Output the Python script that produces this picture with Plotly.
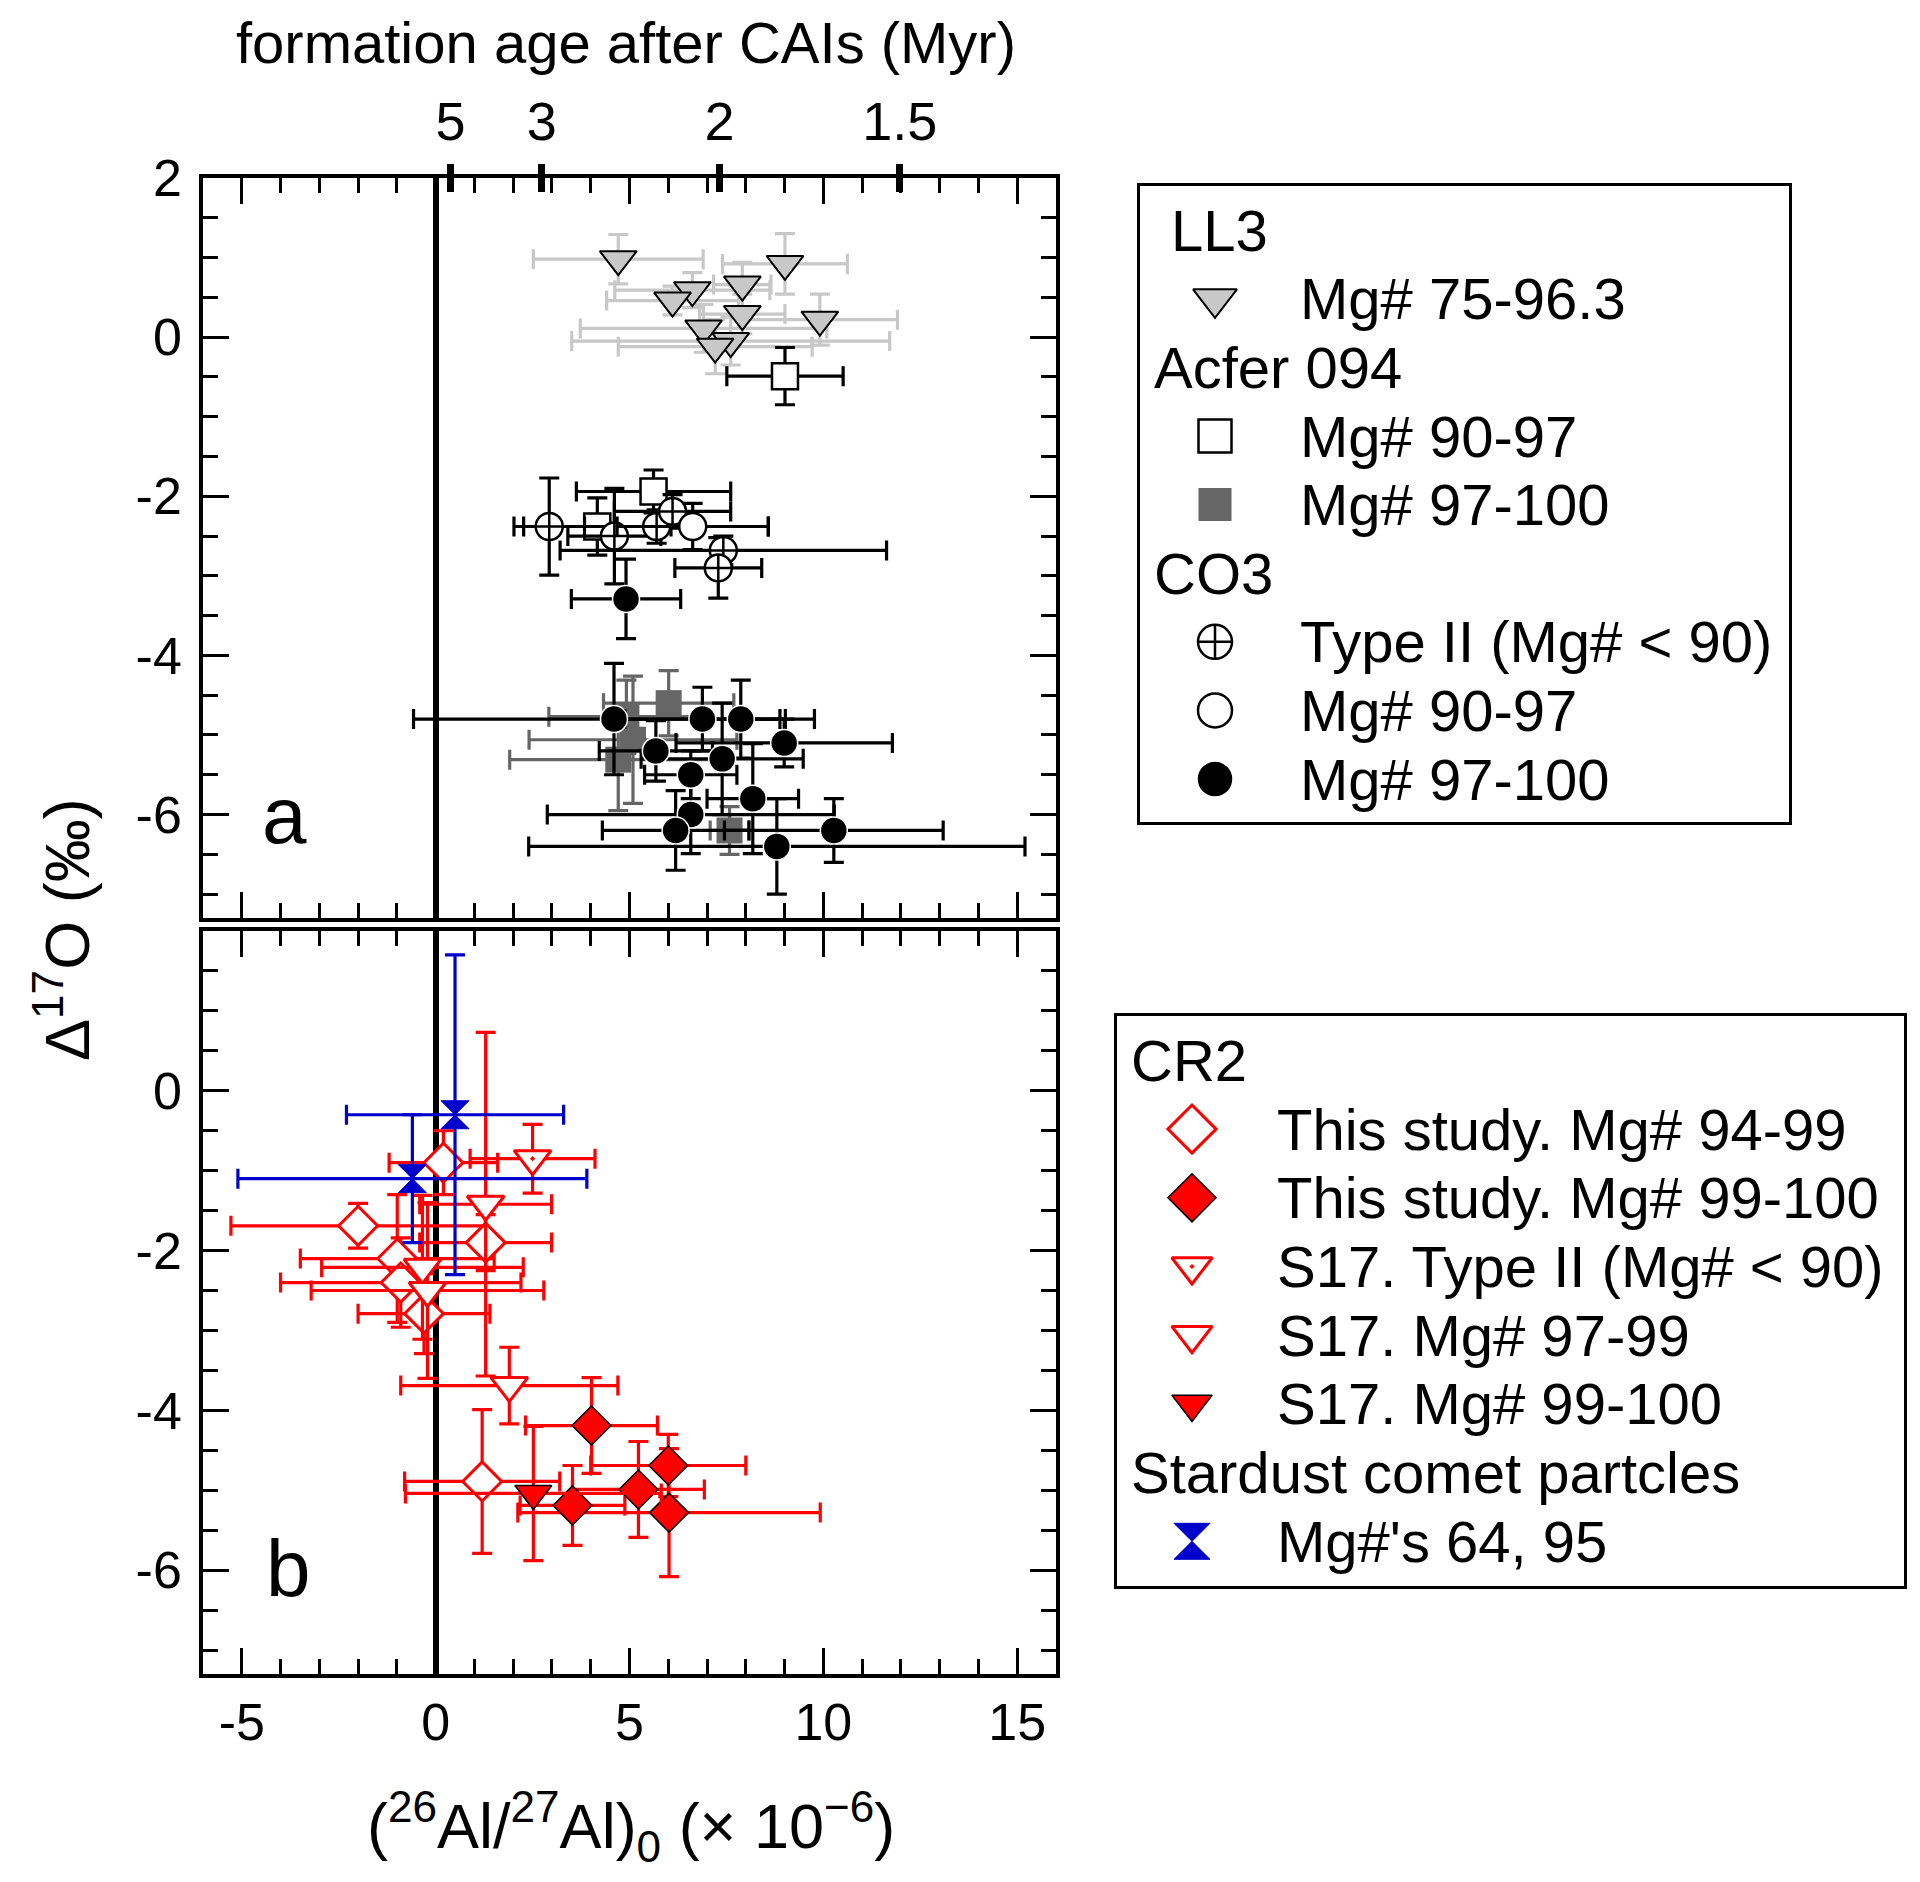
import plotly.graph_objects as go

# ---- data ----
# panel a: LL3, Acfer 094, CO3
ll3_x = [4.71, 9.01, 7.91, 6.62, 6.11, 7.91, 9.91, 6.91, 7.61, 7.21]
ll3_y = [0.98, 0.92, 0.66, 0.59, 0.46, 0.29, 0.22, 0.11, -0.05, -0.12]
ll3_xerr = [2.19, 1.61, 0.74, 2.0, 1.7, 1.1, 2.0, 3.18, 4.1, 2.5]
ll3_yerr = [0.31, 0.38, 0.28, 0.22, 0.18, 0.25, 0.32, 0.3, 0.3, 0.34]

acf_open_x = [9.01, 5.62, 4.17]
acf_open_y = [-0.49, -1.94, -2.38]
acf_open_xerr = [1.5, 1.99, 1.9]
acf_open_yerr = [0.36, 0.27, 0.36]

acf_fill_x = [6.01, 4.92, 5.09, 4.71, 7.58]
acf_fill_y = [-4.60, -4.77, -5.06, -5.31, -6.20]
acf_fill_xerr = [1.68, 2.0, 2.68, 2.8, 0.5]
acf_fill_yerr = [0.41, 0.46, 0.8, 0.64, 0.3]

co3_t2_x = [2.93, 4.61, 5.70, 6.11, 7.42, 7.29]
co3_t2_y = [-2.38, -2.50, -2.38, -2.19, -2.68, -2.90]
co3_t2_xerr = [0.91, 1.2, 2.88, 1.5, 4.21, 1.12]
co3_t2_yerr = [0.61, 0.6, 0.21, 0.21, 0.18, 0.38]

co3_open_x = [6.63]
co3_open_y = [-2.38]
co3_open_xerr = [1.95]
co3_open_yerr = [0.29]

co3_fill_x = [4.91, 4.60, 6.88, 7.87, 8.99, 5.68, 7.39, 6.58, 8.18, 6.58, 6.19, 10.27, 8.80]
co3_fill_y = [-3.29, -4.80, -4.80, -4.80, -5.10, -5.20, -5.30, -5.50, -5.80, -6.00, -6.20, -6.20, -6.40]
co3_fill_xerr = [1.41, 5.17, 2.0, 1.15, 2.79, 1.46, 2.09, 1.19, 1.18, 3.7, 1.89, 2.82, 6.4]
co3_fill_yerr = [0.5, 0.7, 0.4, 0.49, 0.3, 0.38, 0.7, 0.3, 0.69, 0.49, 0.5, 0.4, 0.6]

# panel b: CR2 and Stardust
ts_open_x = [0.20, -2.0, 1.29, -0.99, -0.90, -0.30, 1.20]
ts_open_y = [-0.90, -1.69, -1.90, -2.10, -2.40, -2.79, -4.89]
ts_open_xerr = [1.4, 3.28, 1.7, 2.5, 3.1, 1.7, 2.0]
ts_open_yerr = [0.4, 0.28, 0.35, 0.8, 0.56, 0.5, 0.9]

ts_fill_x = [4.02, 6.00, 5.23, 3.53, 6.02]
ts_fill_y = [-4.19, -4.69, -4.99, -5.19, -5.28]
ts_fill_xerr = [1.7, 2.0, 1.7, 1.35, 3.9]
ts_fill_yerr = [0.6, 0.39, 0.6, 0.5, 0.8]

s17_t2_x = [2.50]
s17_t2_y = [-0.85]
s17_t2_xerr = [1.61]
s17_t2_yerr = [0.43]

s17_open_x = [1.29, -0.34, -0.21, 1.90]
s17_open_y = [-1.42, -2.21, -2.50, -3.69]
s17_open_xerr = [1.7, 2.6, 3.0, 2.8]
s17_open_yerr = [2.15, 0.9, 1.1, 0.48]

s17_fill_x = [2.52]
s17_fill_y = [-5.04]
s17_fill_xerr = [3.3]
s17_fill_yerr = [0.84]

stardust_x = [0.50, -0.60]
stardust_y = [-0.30, -1.10]
stardust_xerr = [2.8, 4.5]
stardust_yerr = [2.0, 0.8]

# axis ticks
x_tickvals = [-5, 0, 5, 10, 15]
x_ticktext = ['-5', '0', '5', '10', '15']
ya_tickvals = [-6, -4, -2, 0, 2]
ya_ticktext = ['-6', '-4', '-2', '0', '2']
yb_tickvals = [-6, -4, -2, 0]
yb_ticktext = ['-6', '-4', '-2', '0']
age_ticks = [5, 3, 2, 1.5]          # Myr after CAIs
age_ticktext = ['5', '3', '2', '1.5']
AL_CANONICAL = 52.3                 # (26Al/27Al)0 of CAIs, x 10^-6
AL_HALF_LIFE = 0.705                # Myr

# legend contents (label, style key or None for a group heading)
legend1_rows = [('LL3', None), ('Mg# 75-96.3', 'll3'),
                ('Acfer 094', None), ('Mg# 90-97', 'acf_open'), ('Mg# 97-100', 'acf_fill'),
                ('CO3', None), ('Type II (Mg# < 90)', 'co3_t2'), ('Mg# 90-97', 'co3_open'),
                ('Mg# 97-100', 'co3_fill')]
legend2_rows = [('CR2', None), ('This study. Mg# 94-99', 'ts_open'),
                ('This study. Mg# 99-100', 'ts_fill'), ('S17. Type II (Mg# < 90)', 's17_t2'),
                ('S17. Mg# 97-99', 's17_open'), ('S17. Mg# 99-100', 's17_fill'),
                ('Stardust comet partcles', None), ("Mg#'s 64, 95", 'stardust')]

# ---- geometry (pixels) ----
FIG_W, FIG_H = 1920, 1882
ML, MR, MT, MB = 203, 16, 178, 208
PW = FIG_W - ML - MR
PH = FIG_H - MT - MB


def fx(px):
    return (px - ML) / PW


def fy(py):
    return (FIG_H - MB - py) / PH


FONT = 'Liberation Sans, Arial, Helvetica, sans-serif'
RED = '#ff0000'
BLUE = '#0000cc'

STYLES = {
    'll3': dict(symbol='triangle-down', color='#c8c8c8', line=dict(color='black', width=2), size=32, err='#c8c8c8', lsize=38),
    'acf_open': dict(symbol='square', color='white', line=dict(color='black', width=2.5), size=26, err='black', lsize=33),
    'acf_fill': dict(symbol='square', color='#666666', line=dict(color='#666666', width=0), size=26, err='#666666', lsize=33),
    'co3_t2': dict(symbol='circle-cross', color='white', line=dict(color='black', width=2.5), size=27, err='black', lsize=34),
    'co3_open': dict(symbol='circle', color='white', line=dict(color='black', width=2.5), size=27, err='black', lsize=34),
    'co3_fill': dict(symbol='circle', color='black', line=dict(color='white', width=1.5), size=27, err='black', lsize=36),
    'ts_open': dict(symbol='diamond', color='white', line=dict(color=RED, width=3), size=30, err=RED, lsize=37),
    'ts_fill': dict(symbol='diamond', color=RED, line=dict(color='black', width=1.5), size=30, err=RED, lsize=37),
    's17_t2': dict(symbol='triangle-down-dot', color='white', line=dict(color=RED, width=3), size=32, err=RED, lsize=35),
    's17_open': dict(symbol='triangle-down', color='white', line=dict(color=RED, width=3), size=32, err=RED, lsize=35),
    's17_fill': dict(symbol='triangle-down', color=RED, line=dict(color='black', width=1.5), size=32, err=RED, lsize=35),
    'stardust': dict(symbol='hourglass', color=BLUE, line=dict(color=BLUE, width=1), size=28, err=BLUE, lsize=36),
}


def series(key, x, y, xerr, yerr, xa, ya):
    st = STYLES[key]
    return go.Scatter(
        x=x, y=y, mode='markers', xaxis=xa, yaxis=ya, showlegend=False, hoverinfo='skip',
        marker=dict(symbol=st['symbol'], color=st['color'], line=st['line'], size=st['size']),
        error_x=dict(type='data', array=xerr, symmetric=True, color=st['err'], thickness=3.2, width=10),
        error_y=dict(type='data', array=yerr, symmetric=True, color=st['err'], thickness=3.2, width=10),
    )


fig = go.Figure()

# panel a (top)
fig.add_trace(series('ll3', ll3_x, ll3_y, ll3_xerr, ll3_yerr, 'x2', 'y2'))
fig.add_trace(series('acf_open', acf_open_x, acf_open_y, acf_open_xerr, acf_open_yerr, 'x2', 'y2'))
fig.add_trace(series('acf_fill', acf_fill_x, acf_fill_y, acf_fill_xerr, acf_fill_yerr, 'x2', 'y2'))
fig.add_trace(series('co3_t2', co3_t2_x, co3_t2_y, co3_t2_xerr, co3_t2_yerr, 'x2', 'y2'))
fig.add_trace(series('co3_open', co3_open_x, co3_open_y, co3_open_xerr, co3_open_yerr, 'x2', 'y2'))
fig.add_trace(series('co3_fill', co3_fill_x, co3_fill_y, co3_fill_xerr, co3_fill_yerr, 'x2', 'y2'))

# panel b (bottom)
fig.add_trace(series('ts_open', ts_open_x, ts_open_y, ts_open_xerr, ts_open_yerr, 'x', 'y'))
fig.add_trace(series('s17_t2', s17_t2_x, s17_t2_y, s17_t2_xerr, s17_t2_yerr, 'x', 'y'))
fig.add_trace(series('s17_open', s17_open_x, s17_open_y, s17_open_xerr, s17_open_yerr, 'x', 'y'))
fig.add_trace(series('ts_fill', ts_fill_x, ts_fill_y, ts_fill_xerr, ts_fill_yerr, 'x', 'y'))
fig.add_trace(series('s17_fill', s17_fill_x, s17_fill_y, s17_fill_xerr, s17_fill_yerr, 'x', 'y'))
fig.add_trace(series('stardust', stardust_x, stardust_y, stardust_xerr, stardust_yerr, 'x', 'y'))

# keeps the age axis alive
fig.add_trace(go.Scatter(x=[], y=[], xaxis='x3', yaxis='y2', showlegend=False, hoverinfo='skip'))

# ---- hand-built legends on their own axes ----
LEG1_BOX = (1140, 186, 1789, 822)
LEG1_ROW0, LEG1_ROWH = 230.2, 68.6
LEG2_BOX = (1117, 1016, 1904, 1586)
LEG2_ROW0, LEG2_ROWH = 1060.4, 68.7
SYM_COL, TEXT_COL = 75, 158
annotations = []


def build_legend(rows, xa, ya, head_cols):
    for i, (label, key) in enumerate(rows):
        if key is None:
            annotations.append(dict(x=head_cols.get(label, 12), y=i, xref=xa, yref=ya, text=label,
                                    showarrow=False, xanchor='left', yanchor='middle',
                                    font=dict(size=58, color='black', family=FONT)))
        else:
            st = STYLES[key]
            fig.add_trace(go.Scatter(x=[SYM_COL], y=[i], mode='markers', xaxis=xa, yaxis=ya,
                                     showlegend=False, hoverinfo='skip',
                                     marker=dict(symbol=st['symbol'], color=st['color'],
                                                 line=st['line'], size=st['lsize'])))
            annotations.append(dict(x=TEXT_COL, y=i, xref=xa, yref=ya, text=label,
                                    showarrow=False, xanchor='left', yanchor='middle',
                                    font=dict(size=58, color='black', family=FONT)))


build_legend(legend1_rows, 'x4', 'y4', {'LL3': 29})
build_legend(legend2_rows, 'x5', 'y5', {})


def legend_axes(box, row0, rowh):
    x0, y0, x1, y1 = box
    common = dict(showline=True, mirror=True, linecolor='black', linewidth=2.5, ticks='',
                  showticklabels=False, showgrid=False, zeroline=False, fixedrange=True)
    xa = dict(domain=[fx(x0), fx(x1)], range=[0, x1 - x0], **common)
    ya = dict(domain=[fy(y1), fy(y0)], range=[(y1 - row0) / rowh, (y0 - row0) / rowh], **common)
    return xa, ya


l1x, l1y = legend_axes(LEG1_BOX, LEG1_ROW0, LEG1_ROWH)
l2x, l2y = legend_axes(LEG2_BOX, LEG2_ROW0, LEG2_ROWH)
l1x['anchor'], l1y['anchor'] = 'y4', 'x4'
l2x['anchor'], l2y['anchor'] = 'y5', 'x5'

# ---- main axes ----
X_RANGE = [-6, 16]
Y_RANGE = [-7.3, 2]
panel_right = fx(1056)
top_dom = [fy(918), 1.0]
bot_dom = [0.0, fy(931)]

minor_x = dict(tickmode='linear', tick0=0, dtick=1, ticks='inside', ticklen=15, tickwidth=2.5, tickcolor='black', showgrid=False)
minor_y = dict(tickmode='linear', tick0=0, dtick=0.5, ticks='inside', ticklen=15, tickwidth=2.5, tickcolor='black', showgrid=False)
frame = dict(showline=True, linecolor='black', linewidth=3.5, mirror='ticks', showgrid=False,
             ticks='inside', ticklen=26, tickwidth=2.5, tickcolor='black')

xaxis_b = dict(domain=[0, panel_right], range=X_RANGE, anchor='y', tickmode='array',
               tickvals=x_tickvals, ticktext=x_ticktext, minor=minor_x,
               zeroline=True, zerolinecolor='black', zerolinewidth=6,
               tickfont=dict(size=52, color='black', family=FONT), ticklabelstandoff=0, **frame)
xaxis_a = dict(domain=[0, panel_right], range=X_RANGE, anchor='y2', matches='x', tickmode='array',
               tickvals=x_tickvals, showticklabels=False, minor=minor_x,
               zeroline=True, zerolinecolor='black', zerolinewidth=6, **frame)
yaxis_b = dict(domain=bot_dom, range=Y_RANGE, anchor='x', tickmode='array', tickvals=yb_tickvals,
               ticktext=yb_ticktext, minor=minor_y, zeroline=False,
               tickfont=dict(size=52, color='black', family=FONT), ticklabelstandoff=7, **frame)
yaxis_a = dict(domain=top_dom, range=Y_RANGE, anchor='x2', tickmode='array', tickvals=ya_tickvals,
               ticktext=ya_ticktext, minor=minor_y, zeroline=False,
               tickfont=dict(size=52, color='black', family=FONT), ticklabelstandoff=7, **frame)

age_vals = [AL_CANONICAL * 0.5 ** (t / AL_HALF_LIFE) for t in age_ticks]
xaxis_age = dict(domain=[0, panel_right], range=X_RANGE, overlaying='x2', anchor='free', side='top',
                 position=fy(192), tickmode='array', tickvals=age_vals, ticktext=age_ticktext,
                 ticks='outside', ticklen=28, tickwidth=7, tickcolor='black', showline=False,
                 showgrid=False, zeroline=False, ticklabelstandoff=2,
                 tickfont=dict(size=54, color='black', family=FONT))

# ---- titles and panel letters ----
annotations += [
    dict(x=fx(626), y=fy(43), xref='paper', yref='paper', text='formation age after CAIs (Myr)',
         showarrow=False, xanchor='center', yanchor='middle', font=dict(size=58, color='black', family=FONT)),
    dict(x=fx(631), y=fy(1826), xref='paper', yref='paper',
         text='(<sup>26</sup>Al/<sup>27</sup>Al)<sub>0</sub> (× 10<sup>−6</sup>)',
         showarrow=False, xanchor='center', yanchor='middle', font=dict(size=63, color='black', family=FONT)),
    dict(x=fx(62), y=fy(930), xref='paper', yref='paper', text='Δ<sup>17</sup>O (‰)', textangle=-90,
         showarrow=False, xanchor='center', yanchor='middle', font=dict(size=63, color='black', family=FONT)),
    dict(x=fx(284), y=fy(815), xref='paper', yref='paper', text='a',
         showarrow=False, xanchor='center', yanchor='middle', font=dict(size=80, color='black', family=FONT)),
    dict(x=fx(288), y=fy(1568), xref='paper', yref='paper', text='b',
         showarrow=False, xanchor='center', yanchor='middle', font=dict(size=80, color='black', family=FONT)),
]

fig.update_layout(
    width=FIG_W, height=FIG_H,
    margin=dict(l=ML, r=MR, t=MT, b=MB),
    paper_bgcolor='white', plot_bgcolor='white',
    font=dict(family=FONT, color='black'),
    showlegend=False,
    xaxis=xaxis_b, yaxis=yaxis_b,
    xaxis2=xaxis_a, yaxis2=yaxis_a,
    xaxis3=xaxis_age,
    xaxis4=l1x, yaxis4=l1y,
    xaxis5=l2x, yaxis5=l2y,
    annotations=annotations,
)

# drop the browser's default 8px body margin so the figure sits at the page origin
fig.write_html('out.html', config={'displayModeBar': False},
               post_script="document.body.style.margin='0';")
